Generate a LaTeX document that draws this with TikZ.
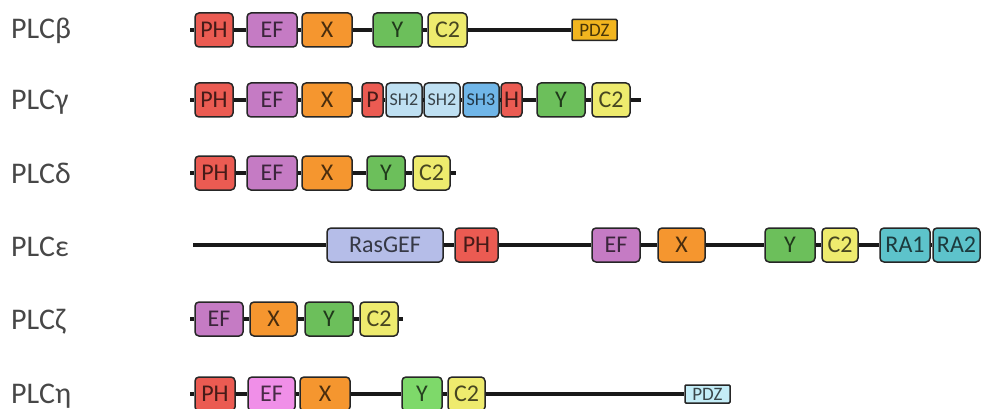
\documentclass[tikz,border=0pt]{standalone}
\usepackage{fontspec}
\setmainfont{Carlito}
\definecolor{cph}{HTML}{EB5B52}
\definecolor{cef}{HTML}{C57BC4}
\definecolor{cefh}{HTML}{F08FE8}
\definecolor{cx}{HTML}{F5962F}
\definecolor{cy}{HTML}{6CBF5B}
\definecolor{cyh}{HTML}{7ED96A}
\definecolor{cc}{HTML}{EEEB6E}
\definecolor{cpdzb}{HTML}{F2B51F}
\definecolor{cpdzh}{HTML}{C4EDF7}
\definecolor{csh}{HTML}{BFE0F2}
\definecolor{cshc}{HTML}{70B6E8}
\definecolor{crg}{HTML}{B5BDE8}
\definecolor{cra}{HTML}{5DC3CB}
\tikzset{
  dom/.style={draw=black!85, line width=1.5pt, rounded corners=4pt, fill=#1,
    text=#1!30!black, inner sep=0pt, minimum height=34pt,
    font=\fontsize{24}{26}\selectfont},
  small/.style={font=\fontsize{18}{20}\selectfont},
  pdz/.style={rounded corners=1pt, minimum height=21pt, font=\fontsize{19}{20}\selectfont},
  bb/.style={line width=3.6pt, black!90},
  lab/.style={anchor=base west, inner sep=0pt, text=black!72, font=\fontsize{30}{34}\selectfont},
}
\begin{document}
\begin{tikzpicture}[x=1pt,y=-1pt]
\useasboundingbox (0,0) rectangle (984,409);
% labels
\node[lab] (lb) at (11,39) {PLCβ};
\node[lab] (lg) at (11,110) {PLCγ};
\node[lab] (ld) at (11,183) {PLCδ};
\node[lab] (le) at (11,256) {PLCε};
\node[lab] (lz) at (11,329) {PLCζ};
\node[lab] (lh) at (11,403) {PLCη};
% beta
\coordinate (b0) at (190,30);
\node[dom=cph, minimum width=38pt] (bph) at (214,30) {PH};
\node[dom=cef, minimum width=50pt] (bef) at (272,30) {EF};
\node[dom=cx, minimum width=50pt] (bx) at (327,30) {X};
\node[dom=cy, minimum width=49pt] (by) at (397.5,30) {Y};
\node[dom=cc, minimum width=39pt] (bc) at (447.5,30) {C2};
\node[dom=cpdzb, pdz, minimum width=45pt] (bpdz) at (594.5,30) {PDZ};
\draw[bb] (b0) -- (bph) -- (bef) -- (bx) -- (by) -- (bc) -- (bpdz);
% gamma
\coordinate (g0) at (190,100);
\coordinate (g1) at (641,100);
\node[dom=cph, minimum width=38pt] (gph) at (214,100) {PH};
\node[dom=cef, minimum width=50pt] (gef) at (272,100) {EF};
\node[dom=cx, minimum width=50pt] (gx) at (327,100) {X};
\node[dom=cph, minimum width=21pt] (gp) at (372.5,100) {P};
\node[dom=csh, small, minimum width=36pt] (gsa) at (404,100) {SH2};
\node[dom=csh, small, minimum width=36pt] (gsb) at (442,100) {SH2};
\node[dom=cshc, small, minimum width=36pt] (gsc) at (481,100) {SH3};
\node[dom=cph, minimum width=21pt] (gh) at (511.5,100) {H};
\node[dom=cy, minimum width=48pt] (gy) at (561,100) {Y};
\node[dom=cc, minimum width=38pt] (gc) at (611,100) {C2};
\draw[bb] (g0) -- (gph) -- (gef) -- (gx) -- (gp) -- (gsa) -- (gsb) -- (gsc) -- (gh) -- (gy) -- (gc) -- (g1);
% delta
\coordinate (d0) at (190,173);
\coordinate (d1) at (456,173);
\node[dom=cph, minimum width=40pt] (dph) at (215,173) {PH};
\node[dom=cef, minimum width=50pt] (def) at (272,173) {EF};
\node[dom=cx, minimum width=50pt] (dx) at (327,173) {X};
\node[dom=cy, minimum width=38pt] (dy) at (386,173) {Y};
\node[dom=cc, minimum width=37pt] (dc) at (431.5,173) {C2};
\draw[bb] (d0) -- (dph) -- (def) -- (dx) -- (dy) -- (dc) -- (d1);
% epsilon
\coordinate (e0) at (193,245);
\node[dom=crg, minimum width=116pt] (erg) at (385,245) {RasGEF};
\node[dom=cph, minimum width=43pt] (eph) at (476.5,245) {PH};
\node[dom=cef, minimum width=48pt] (eef) at (616,245) {EF};
\node[dom=cx, minimum width=47pt] (ex) at (681.5,245) {X};
\node[dom=cy, minimum width=50pt] (ey) at (790,245) {Y};
\node[dom=cc, minimum width=36pt] (ec) at (840,245) {C2};
\node[dom=cra, minimum width=50pt] (era) at (905,245) {RA1};
\node[dom=cra, minimum width=47pt] (erb) at (956.5,245) {RA2};
\draw[bb] (e0) -- (erg) -- (eph) -- (eef) -- (ex) -- (ey) -- (ec) -- (era) -- (erb);
% zeta
\coordinate (z0) at (190,319);
\coordinate (z1) at (403,319);
\node[dom=cef, minimum width=48pt] (zef) at (219,319) {EF};
\node[dom=cx, minimum width=47pt] (zx) at (273.5,319) {X};
\node[dom=cy, minimum width=48pt] (zy) at (329,319) {Y};
\node[dom=cc, minimum width=38pt] (zc) at (379,319) {C2};
\draw[bb] (z0) -- (zef) -- (zx) -- (zy) -- (zc) -- (z1);
% eta
\coordinate (h0) at (190,394);
\node[dom=cph, minimum width=40pt] (hph) at (215,394) {PH};
\node[dom=cefh, minimum width=47pt] (hef) at (271.5,394) {EF};
\node[dom=cx, minimum width=50pt] (hx) at (325,394) {X};
\node[dom=cyh, minimum width=40pt] (hy) at (422,394) {Y};
\node[dom=cc, minimum width=37pt] (hc) at (466.5,394) {C2};
\node[dom=cpdzh, pdz, minimum height=18pt, minimum width=45pt] (hpdz) at (707.5,394) {PDZ};
\draw[bb] (h0) -- (hph) -- (hef) -- (hx) -- (hy) -- (hc) -- (hpdz);
\end{tikzpicture}
\end{document}
